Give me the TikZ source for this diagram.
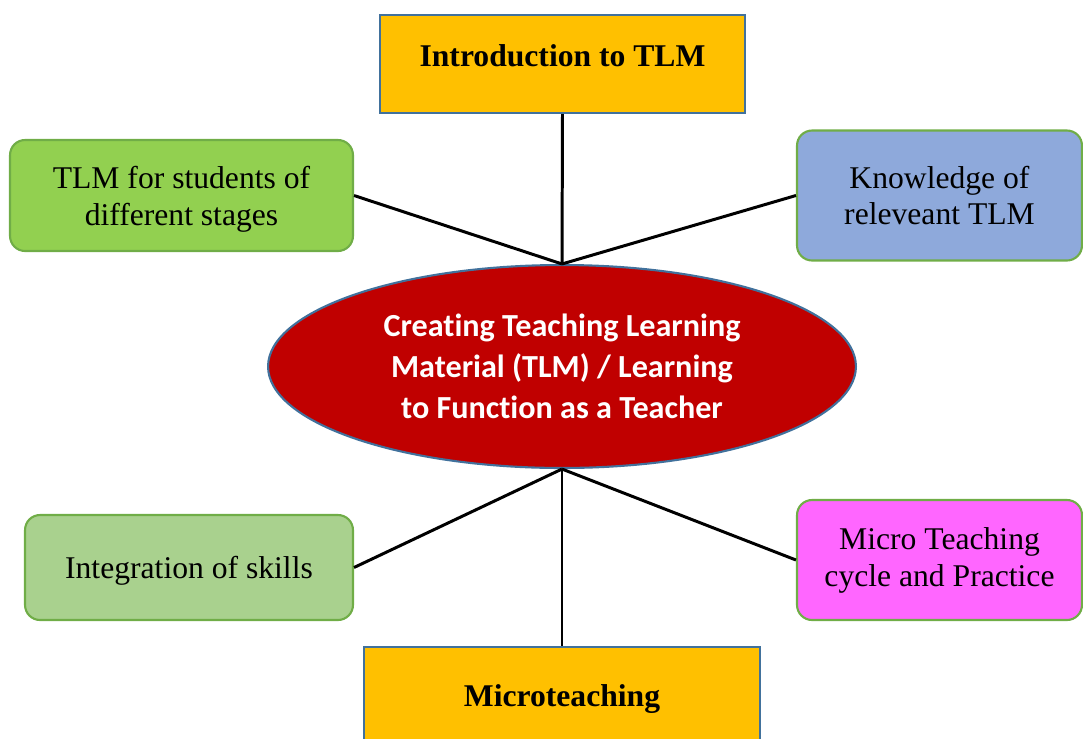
\documentclass[tikz,border=0pt]{standalone}
\usepackage{fontspec}
\setmainfont{Liberation Serif}
\newfontfamily\ovalfont[Ligatures=NoCommon]{Carlito}
\usetikzlibrary{shapes.geometric}

\definecolor{tlmorange}{HTML}{FFC000}
\definecolor{tlmblue}{HTML}{41719C}
\definecolor{tlmgreen}{HTML}{92D050}
\definecolor{tlmedge}{HTML}{70AD47}
\definecolor{tlmsky}{HTML}{8EA9DB}
\definecolor{tlmsage}{HTML}{A9D18E}
\definecolor{tlmpink}{HTML}{FF66FF}
\definecolor{tlmred}{HTML}{C00000}

\begin{document}
\begin{tikzpicture}[x=0.02cm,y=-0.02cm,
    headbox/.style={draw=tlmblue, line width=1.2pt, fill=tlmorange, inner sep=0pt,
        font=\fontsize{18}{21}\selectfont\bfseries},
    sidebox/.style={draw=tlmedge, line width=1.2pt, rounded corners=0.3cm, inner sep=0pt,
        align=center, font=\fontsize{18}{21}\selectfont},
    link/.style={line width=1.7pt}]
        \useasboundingbox (0,0) rectangle (1083,738);

        % Top and bottom headings
        \node[headbox, minimum width=7.3cm, text height=1.02cm, text depth=0.94cm]
            (intro) at (562.5,64) {Introduction to TLM};
        \node[headbox, minimum width=7.92cm, text height=1.18cm, text depth=0.78cm]
            (micro) at (562,696) {Microteaching};

        % Central ellipse
        \node[ellipse, draw=tlmblue, line width=1.2pt, fill=tlmred, text=white, inner sep=0pt,
            minimum width=11.76cm, minimum height=4.06cm, align=center,
            font=\ovalfont\fontsize{18.3}{23.3}\selectfont\bfseries]
            (core) at (562,366.5) {Creating Teaching Learning\\Material (TLM) / Learning\\to Function as a Teacher};

        % Side boxes
        \node[sidebox, fill=tlmgreen, minimum width=6.86cm, minimum height=2.22cm, text depth=0cm]
            (stages) at (181.5,195.5) {TLM for students of\\different stages};
        \node[sidebox, fill=tlmsky, minimum width=5.7cm, minimum height=2.6cm]
            (know) at (939.5,195.5) {Knowledge of\\releveant TLM};
        \node[sidebox, fill=tlmsage, minimum width=6.56cm, minimum height=2.1cm, text height=0.56cm]
            (skills) at (189,567.5) {Integration of skills};
        \node[sidebox, fill=tlmpink, minimum width=5.7cm, minimum height=2.4cm]
            (cycle) at (939.5,560) {Micro Teaching\\cycle and Practice};

        % Connectors to the ellipse
        \draw[link] (intro.south) -- (core.north);
        \draw[link] (stages.east) -- (core.north);
        \draw[link] (know.west) -- (core.north);
        \draw[link] (core.south) -- (skills.east);
        \draw[link] (core.south) -- (cycle.west);
        \draw[link] (core.south) -- (micro.north);
    \end{tikzpicture}
\end{document}
